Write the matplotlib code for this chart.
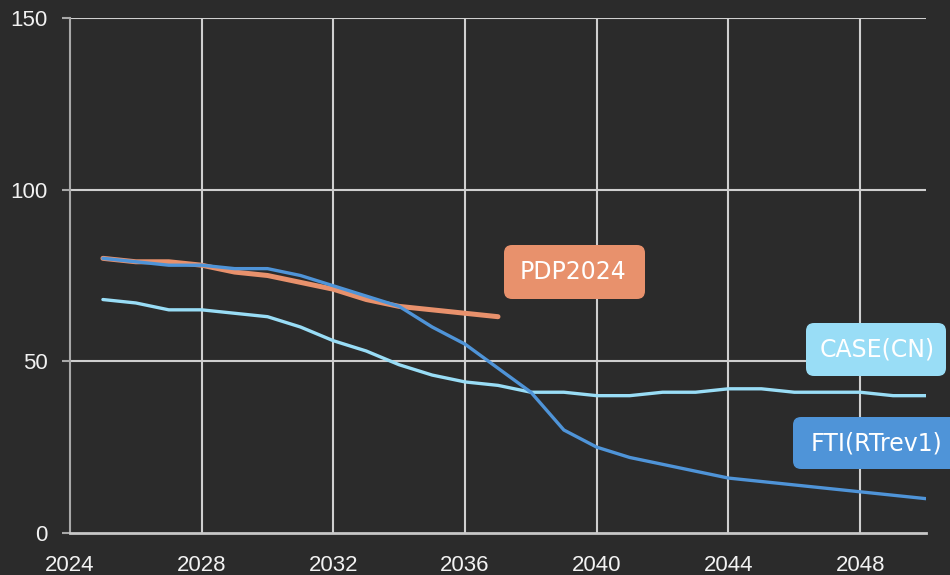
import matplotlib
matplotlib.use("Agg")
import matplotlib.pyplot as plt
import matplotlib.patches as mpatches

# ── 데이터 ────────────────────────────────────────────────────────────
years_fti = list(range(2025, 2051))
fti = [80, 79, 78, 78, 77, 77, 75, 72, 69, 66, 60, 55, 48, 41, 30,
       25, 22, 20, 18, 16, 15, 14, 13, 12, 11, 10]

years_case = list(range(2025, 2051))
case_cn = [68, 67, 65, 65, 64, 63, 60, 56, 53, 49, 46, 44, 43, 41, 41,
           40, 40, 41, 41, 42, 42, 41, 41, 41, 40, 40]

years_pdp = list(range(2025, 2038))
pdp = [80, 79, 79, 78, 76, 75, 73, 71, 68, 66, 65, 64, 63]

x_ticks = [2024, 2028, 2032, 2036, 2040, 2044, 2048]
y_ticks = [0, 50, 100, 150]

BG = "#2b2b2b"
C_PDP = "#e8916c"
C_CASE = "#99ddf6"
C_FTI = "#4f94d8"
GRID = "#cfcfcf"

# ── 그리기 ────────────────────────────────────────────────────────────
fig = plt.figure(figsize=(9.5, 5.75), dpi=100)
fig.patch.set_facecolor(BG)
ax = fig.add_axes([70 / 950, 42 / 575, 856 / 950, 515 / 575])
ax.set_facecolor(BG)

ax.set_xlim(2024, 2050)
ax.set_ylim(0, 150)
ax.set_xticks(x_ticks)
ax.set_yticks(y_ticks)

for y in y_ticks[1:]:
    ax.axhline(y, color=GRID, linewidth=1.5, zorder=1)
for x in x_ticks[1:]:
    ax.axvline(x, color=GRID, linewidth=1.5, zorder=1)

for side in ["top", "right"]:
    ax.spines[side].set_visible(False)
ax.spines["left"].set_color("#a8a8a8")
ax.spines["left"].set_linewidth(1.5)
ax.spines["bottom"].set_color("#c8c8c8")
ax.spines["bottom"].set_linewidth(2)

ax.tick_params(axis="y", length=6, width=1.5, color="#a8a8a8", pad=10,
               labelcolor="#f2f2f2", labelsize=16)
ax.tick_params(axis="x", length=0, pad=16, labelcolor="#f2f2f2", labelsize=16)
for lbl in ax.get_xticklabels() + ax.get_yticklabels():
    lbl.set_fontfamily("Liberation Sans")

# 시리즈
ax.plot(years_pdp, pdp, color=C_PDP, linewidth=3.6,
        solid_capstyle="round", zorder=3)
ax.plot(years_case, case_cn, color=C_CASE, linewidth=2.4,
        solid_capstyle="round", zorder=4)
ax.plot(years_fti, fti, color=C_FTI, linewidth=2.4,
        solid_capstyle="round", zorder=5)

# 라벨 박스 (인치 단위)
LABELS = [
    ("PDP2024",     C_PDP,  (5.04, 2.76, 1.41, 0.54), (5.735, 3.03)),
    ("CASE(CN)",    C_CASE, (8.06, 1.99, 1.40, 0.53), (8.77, 2.255)),
    ("FTI(RTrev1)", C_FTI,  (7.93, 1.06, 1.80, 0.52), (8.765, 1.31)),
]
for text, col, (bx, by, bw, bh), (tx, ty) in LABELS:
    box = mpatches.FancyBboxPatch(
        (bx, by), bw, bh,
        boxstyle="round,pad=0,rounding_size=0.08",
        transform=fig.dpi_scale_trans,
        facecolor=col, edgecolor="none", zorder=6)
    fig.patches.append(box)
    fig.text(tx, ty, text, transform=fig.dpi_scale_trans,
             color="white", fontsize=17, family="DejaVu Sans",
             ha="center", va="center", zorder=7)

fig.savefig("out.png", dpi=100, facecolor=fig.get_facecolor())
